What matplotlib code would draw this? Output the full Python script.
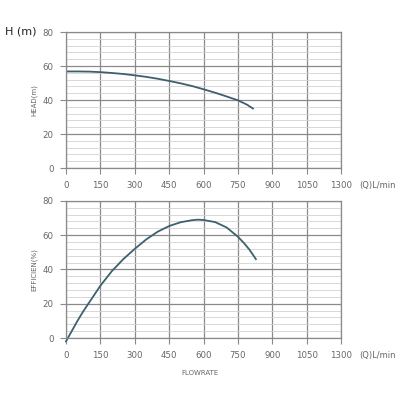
import matplotlib
matplotlib.use("Agg")
import matplotlib.pyplot as plt
import numpy as np

# Data
flow_head = [0, 50, 100, 150, 200, 250, 300, 350, 400, 450, 500, 550, 600, 650, 700, 750, 790, 815]
head = [56.8, 56.8, 56.7, 56.4, 55.9, 55.3, 54.5, 53.6, 52.5, 51.2, 49.8, 48.2, 46.3, 44.3, 42.1, 39.8, 37.2, 35.0]

flow_eff = [0, 25, 50, 75, 100, 150, 200, 250, 300, 350, 400, 450, 500, 550, 575, 600, 650, 700, 750, 775, 800, 828]
eff = [-2.0, 4.0, 10.0, 15.5, 20.5, 30.5, 39.0, 46.0, 52.0, 57.5, 62.0, 65.3, 67.5, 68.7, 69.0, 68.8, 67.6, 64.5, 59.0, 55.5, 51.5, 46.0]

x_ticks = [0, 150, 300, 450, 600, 750, 900, 1050, 1200]
x_labels = ["0", "150", "300", "450", "600", "750", "900", "1050", "1300"]
y_ticks = [0, 20, 40, 60, 80]

line_color = "#3d5f6e"
tick_color = "#666666"

fig = plt.figure(figsize=(4, 4), dpi=100)
ax1 = fig.add_axes([0.165, 0.58, 0.688, 0.34])
ax2 = fig.add_axes([0.165, 0.155, 0.688, 0.343])

def style(ax):
    ax.set_xlim(0, 1200)
    ax.set_ylim(0, 80)
    ax.set_xticks(x_ticks)
    ax.set_xticklabels(x_labels)
    ax.set_yticks(y_ticks)
    ax.set_yticks(np.arange(0, 81, 4), minor=True)
    ax.grid(which="major", color="#8a8a8a", linewidth=0.9)
    ax.grid(which="minor", axis="y", color="#d2d2d2", linewidth=0.6)
    ax.set_axisbelow(True)
    for s in ax.spines.values():
        s.set_color("#8a8a8a")
        s.set_linewidth(0.9)
    ax.tick_params(axis="both", which="major", labelsize=6.2, colors="#8a8a8a",
                   labelcolor=tick_color, length=4, width=0.8, pad=5)
    ax.tick_params(axis="y", which="minor", length=0)
    ax.text(1.065, -0.125, "(Q)L/min", transform=ax.transAxes, fontsize=6,
            color=tick_color, ha="left", va="center")

style(ax1)
style(ax2)

ax1.plot(flow_head, head, color=line_color, linewidth=1.3)
ax2.plot(flow_eff, eff, color=line_color, linewidth=1.3, clip_on=False)

ax1.set_ylabel("HEAD(m)", fontsize=5, color=tick_color, labelpad=4)
ax2.set_ylabel("EFFICIEN(%)", fontsize=5, color=tick_color, labelpad=4)
fig.text(0.012, 0.922, "H (m)", fontsize=8, color="#222222", ha="left", va="center")
fig.text(0.5, 0.067, "FLOWRATE", fontsize=5, color=tick_color, ha="center", va="center")

fig.savefig("out.png", dpi=100, facecolor="white")
